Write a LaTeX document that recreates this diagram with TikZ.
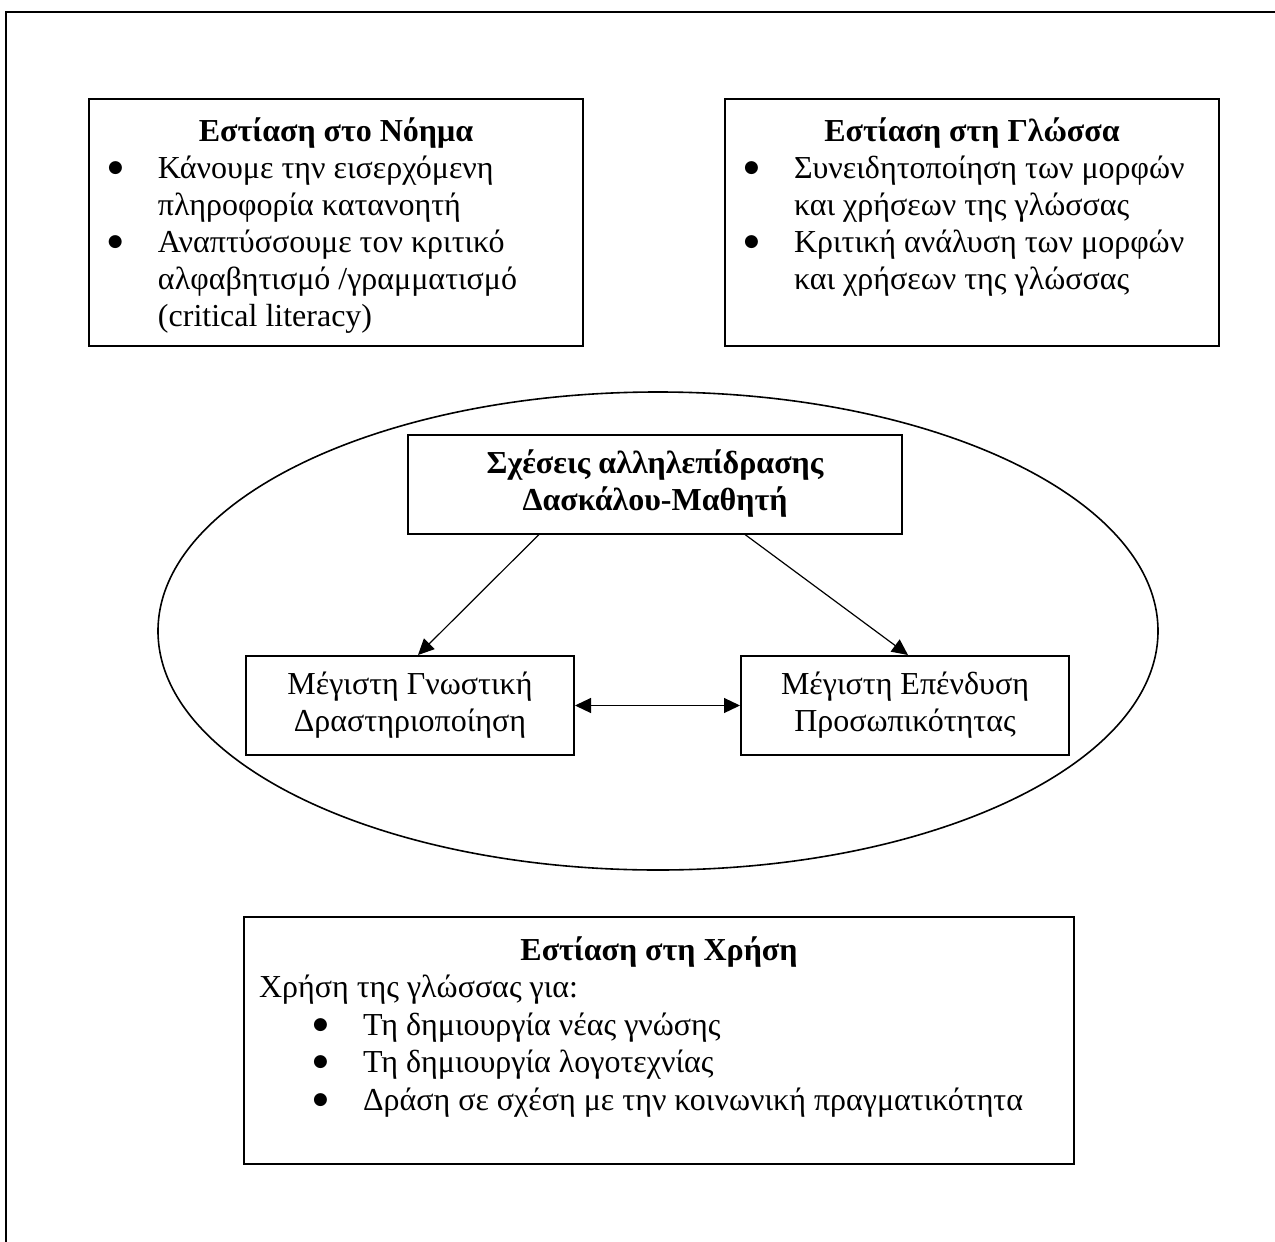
\documentclass[tikz,border=0pt]{standalone}
\usepackage{fontspec}
\setmainfont{Liberation Serif}
\newfontfamily\dejavu{DejaVu Sans}
\usetikzlibrary{shapes.geometric,arrows.meta}

% bullet line and its continuation line
\newcommand{\bulletmark}{\raisebox{3pt}{\fontsize{8.5}{8.5}\dejavu ●}}
\newcommand{\bul}[2][9.5pt]{\par\noindent\hspace*{#1}\makebox[25pt][l]{\bulletmark}#2}
\newcommand{\cont}[2][34.5pt]{\par\noindent\hspace*{#1}#2}

\begin{document}
\begin{tikzpicture}[x=0.5pt,y=-0.5pt]
    \tikzset{every node/.style = {font=\fontsize{16}{18.5}\selectfont},
        textbox/.style = {draw, line width=1pt, inner sep=0pt, anchor=north west},
        smallbox/.style = {draw, line width=1pt, inner sep=0pt, align=center,
            minimum width=164pt, minimum height=49.5pt},
        link/.style = {line width=0.6pt, -{Triangle[length=8pt,width=7.5pt]}}}
    \useasboundingbox (0,0) rectangle (1275,1242);
    \draw[line width=1pt] (1275,12) -- (6,12) -- (6,1242);

    \node[textbox] (noima) at (88,98) {\begin{minipage}[t][123.5pt][t]{247pt}
        {\centering\bfseries\rule{0pt}{21pt}Εστίαση στο Νόημα\par}
        \bul{Κάνουμε την εισερχόμενη}
        \cont{πληροφορία κατανοητή}
        \bul{Αναπτύσσουμε τον κριτικό}
        \cont{αλφαβητισμό /γραμματισμό}
        \cont{(critical literacy)}
        \end{minipage}};
    \node[textbox] (glossa) at (724,98) {\begin{minipage}[t][123.5pt][t]{247pt}
        {\centering\bfseries\rule{0pt}{21pt}Εστίαση στη Γλώσσα\par}
        \bul{Συνειδητοποίηση των μορφών}
        \cont{και χρήσεων της γλώσσας}
        \bul{Κριτική ανάλυση των μορφών}
        \cont{και χρήσεων της γλώσσας}
        \end{minipage}};

    \node[ellipse, draw, line width=0.8pt, inner sep=0pt,
        minimum width=500pt, minimum height=239pt] (kyklos) at (658,631) {};
    \node[smallbox, minimum width=247pt, font=\fontsize{16}{18.5}\selectfont\bfseries]
        (sxeseis) at (655,484) {Σχέσεις αλληλεπίδρασης\\Δασκάλου-Μαθητή};
    \node[smallbox] (gnostiki) at (410,705.5) {Μέγιστη Γνωστική\\Δραστηριοποίηση};
    \node[smallbox] (ependysi) at (905,705.5) {Μέγιστη Επένδυση\\Προσωπικότητας};
    \draw[link] ([xshift=-58pt]sxeseis.south) -- ([xshift=4pt]gnostiki.north);
    \draw[link] ([xshift=45pt]sxeseis.south) -- ([xshift=1.5pt]ependysi.north);
    \draw[link, {Triangle[length=8pt,width=7.5pt]}-{Triangle[length=8pt,width=7.5pt]}]
        (gnostiki) -- (ependysi);

    \node[textbox, font=\fontsize{16}{18.8}\selectfont] (xrisi) at (243,916)
        {\begin{minipage}[t][123.5pt][t]{415pt}
        {\centering\bfseries\rule{0pt}{21.5pt}Εστίαση στη Χρήση\par}
        \cont[7.5pt]{Χρήση της γλώσσας για:}
        \bul[34.5pt]{Τη δημιουργία νέας γνώσης}
        \bul[34.5pt]{Τη δημιουργία λογοτεχνίας}
        \bul[34.5pt]{Δράση σε σχέση με την κοινωνική πραγματικότητα}
        \end{minipage}};
\end{tikzpicture}
\end{document}
